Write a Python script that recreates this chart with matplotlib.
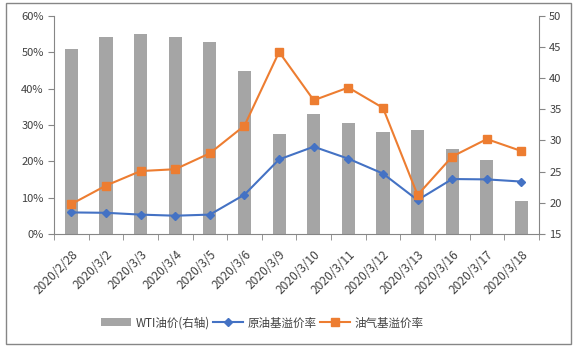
import numpy as np
import matplotlib.pyplot as plt
import matplotlib.transforms as mtransforms
from matplotlib.patches import Rectangle

plt.rcParams['font.family'] = ['Noto Sans CJK SC', 'DejaVu Sans']

dates = ['2020/2/28', '2020/3/2', '2020/3/3', '2020/3/4', '2020/3/5', '2020/3/6',
         '2020/3/9', '2020/3/10', '2020/3/11', '2020/3/12', '2020/3/13', '2020/3/16',
         '2020/3/17', '2020/3/18']
wti = [44.7, 46.6, 47.1, 46.6, 45.8, 41.2, 31.1, 34.3, 32.8, 31.4, 31.7, 28.6, 26.9, 20.3]
crude_premium = [5.9, 5.8, 5.3, 5.0, 5.3, 10.8, 20.5, 24.0, 20.7, 16.6, 9.3, 15.1, 15.0, 14.4]
oilgas_premium = [8.2, 13.3, 17.3, 17.8, 22.2, 29.8, 50.1, 36.8, 40.3, 34.7, 10.7, 21.3, 26.1, 22.8]

grey = '#A5A5A5'
blue = '#4472C4'
orange = '#ED7D31'
axis_c = '#868686'
text_c = '#404040'

fig = plt.figure(figsize=(5.75, 3.48), dpi=100)
fig.patches.append(Rectangle((0.011, 0.012), 0.982, 0.98, transform=fig.transFigure,
                             fill=False, edgecolor=axis_c, linewidth=1.0))

ax = fig.add_axes([0.094, 0.328, 0.843, 0.626])
ax2 = ax.twinx()
x = np.arange(len(dates))

bars = ax2.bar(x, np.array(wti) - 15, bottom=15, width=0.38, color=grey, label='WTI油价(右轴)')
l1, = ax.plot(x, crude_premium, color=blue, lw=1.5, marker='D', ms=4, label='原油基溢价率')
l2, = ax.plot(x, oilgas_premium, color=orange, lw=1.5, marker='s', ms=5.5, label='油气基溢价率')

ax.set_zorder(ax2.get_zorder() + 1)
ax.patch.set_visible(False)

ax.set_xlim(-0.5, len(dates) - 0.5)
ax.set_ylim(0, 60)
ax.set_yticks(np.arange(0, 61, 10))
ax.set_yticklabels([f'{v}%' for v in range(0, 61, 10)])
ax2.set_ylim(15, 50)
ax2.set_yticks(np.arange(15, 51, 5))

ax.set_xticks(x)
ax.set_xticklabels(dates, rotation=45, ha='right', rotation_mode='anchor', fontsize=8.6)
ax.set_xticks(np.arange(-0.5, len(dates), 1), minor=True)
ax.tick_params(axis='x', which='major', length=0, pad=10)
ax.tick_params(axis='x', which='minor', length=4, color=axis_c)

# nudge the date labels a little to the right of their category centre
shift = mtransforms.ScaledTranslation(5 / 100, 0, fig.dpi_scale_trans)
for lab in ax.get_xticklabels():
    lab.set_transform(lab.get_transform() + shift)

for a in (ax, ax2):
    for s in a.spines.values():
        s.set_visible(False)
    a.tick_params(axis='y', labelsize=8, length=4)
    a.tick_params(labelcolor=text_c, color=axis_c, width=0.8)
ax.spines['left'].set_visible(True)
ax.spines['bottom'].set_visible(True)
ax2.spines['right'].set_visible(True)
for s in (ax.spines['left'], ax.spines['bottom'], ax2.spines['right']):
    s.set_color(axis_c)
    s.set_linewidth(0.8)

fig.legend([bars, l1, l2], [bars.get_label(), l1.get_label(), l2.get_label()],
           loc='center', bbox_to_anchor=(0.456, 0.072), ncol=3, frameon=False,
           fontsize=8.3, labelcolor=text_c, handlelength=2.6, handletextpad=0.4,
           columnspacing=0.3)

fig.savefig('out.png', dpi=100)
